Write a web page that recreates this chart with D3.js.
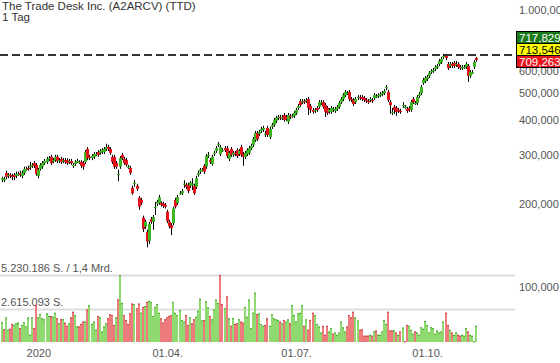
<!DOCTYPE html>
<html><head><meta charset="utf-8">
<script src="https://cdn.jsdelivr.net/npm/d3@7"></script>
<style>
html,body{margin:0;padding:0;background:#fff;}
svg{display:block;font-family:"Liberation Sans",Arial,sans-serif;}
</style></head>
<body><svg id="c" width="560" height="363"></svg>
<script>
// ---- data ----
const title = "The Trade Desk Inc. (A2ARCV) (TTD)";
const period = "1 Tag";
const open = [
243,245,258,252,254,252,254,252,256,258, 252,258,267,269,272,274,280,276,252,267,
272,280,283,290,295,285,287,295,285,290, 285,287,287,283,285,276,278,285,283,283,
280,283,315,295,292,295,302,307,305,307, 307,315,320,315,295,295,280,256,272,300,
290,287,272,269,228,238,232,210,206,178, 165,158,147,176,172,195,200,201,201,200,
198,187,172,167,170,206,201,218,218,236, 234,234,232,236,232,230,254,261,265,274,
272,300,287,278,305,310,329,302,312,317, 317,290,315,300,305,312,302,320,302,295,
302,305,317,326,339,360,357,366,369,357, 375,348,379,385,398,408,411,408,418,411,
395,415,411,415,425,443,469,465,469,469, 477,450,436,432,443,447,462,465,454,443,
429,429,436,432,440,447,465,477,493,501, 506,477,473,465,481,485,485,481,473,469,
473,473,481,489,489,493,497,501,527,506, 465,429,447,443,436,432,454,447,440,443,
436,477,462,462,489,501,545,554,564,578, 597,602,612,623,638,649,677,682,638,628,
638,644,638,638,623,617,623,623,628,578, 597,623,671];
const high = [
250,250,263,258,258,256,258,261,261,263, 263,272,272,274,283,280,285,280,269,280,
285,290,295,297,300,292,300,300,292,295, 292,292,292,290,290,280,287,290,287,287,
285,312,320,300,302,307,307,312,315,317, 320,329,326,320,300,300,285,265,297,305,
295,292,276,274,232,243,236,213,210,181, 175,161,172,179,182,203,206,215,204,203,
201,190,175,170,195,210,215,222,226,243, 238,238,241,247,236,252,263,269,269,278,
302,307,292,300,310,323,334,326,317,323, 323,310,320,310,310,317,315,326,307,310,
317,323,329,348,366,366,369,379,382,366, 382,379,391,408,415,418,418,418,425,418,
425,422,422,432,443,458,477,477,477,481, 485,458,443,443,450,473,473,473,462,450,
443,450,447,447,454,469,485,501,514,510, 514,485,481,485,493,493,493,489,481,477,
485,481,501,497,501,506,510,518,536,514, 473,443,454,450,443,440,465,454,447,450,
473,485,469,493,506,536,569,578,583,602, 612,617,633,638,666,677,694,694,649,649,
649,655,655,649,633,633,633,649,638,607, 607,660,677];
const low = [
239,239,245,247,247,243,243,247,252,250, 247,254,263,263,265,269,269,252,247,263,
267,276,278,285,276,280,283,280,280,278, 280,278,276,278,276,269,274,280,278,269,
265,278,287,287,287,290,297,295,300,302, 302,310,310,300,278,267,267,241,267,287,
276,272,267,254,215,230,222,190,198,158, 162,139,143,169,161,182,196,198,195,193,
192,170,163,154,167,192,198,215,215,228, 226,218,228,224,215,226,250,256,261,256,
267,292,278,274,297,305,320,297,307,307, 292,285,295,295,297,292,297,295,274,290,
297,300,312,320,334,336,351,360,363,348, 348,342,372,379,391,401,401,401,395,398,
388,404,408,408,418,436,447,458,458,462, 418,425,422,425,429,440,454,440,411,418,
422,422,429,425,432,440,458,469,485,493, 469,465,450,458,473,473,469,465,462,458,
465,462,473,481,481,485,489,493,514,465, 422,418,422,415,425,422,443,440,425,429,
429,458,454,454,481,493,536,545,554,569, 588,593,602,612,628,638,666,660,607,617,
617,617,623,612,607,607,612,612,550,569, 588,612,649];
const close = [
247,245,250,254,252,250,250,256,256,254, 258,267,267,267,274,276,274,256,265,276,
280,285,290,292,280,287,295,285,287,283, 287,283,280,285,280,276,283,285,283,274,
272,307,292,292,297,302,302,300,310,312, 315,320,315,305,283,272,272,256,292,292,
280,276,272,258,218,238,226,195,201,162, 172,146,169,172,179,195,203,211,198,196,
195,173,166,163,192,195,211,218,222,236, 230,222,238,236,218,247,258,265,265,261,
297,300,283,295,305,317,329,320,312,312, 297,305,300,305,302,297,310,300,295,305,
312,317,323,342,360,342,363,372,375,357, 354,372,385,401,408,411,408,411,401,404,
418,411,415,425,436,450,454,469,465,473, 443,436,429,436,436,465,465,447,429,425,
436,443,440,440,447,462,477,493,506,501, 477,473,458,477,485,481,477,473,469,465,
477,469,493,489,493,497,501,510,527,473, 454,429,436,429,432,429,454,447,432,436,
465,465,462,485,497,527,559,569,573,593, 602,607,623,628,655,666,682,671,617,638,
628,628,638,623,617,623,623,638,578,597, 597,649,660];
// volume in millions of shares
const volume = [
1.54,1.00,1.92,0.95,1.03,1.41,1.33,1.46,1.51,1.08, 1.33,1.54,1.21,1.92,0.56,1.92,1.08,2.87,1.92,2.18,
1.85,1.77,2.23,2.03,2.03,1.97,2.28,1.85,1.46,1.77, 1.77,1.51,1.26,1.46,1.92,2.36,2.10,1.21,1.21,1.41,
1.59,1.59,2.54,2.87,1.41,1.59,0.95,2.03,1.92,0.82, 1.21,1.46,1.85,2.18,2.10,1.33,1.92,3.33,5.23,3.05,
2.10,1.72,1.41,2.23,3.00,2.95,2.62,3.00,2.28,2.74, 2.80,3.13,3.21,3.13,2.03,2.74,2.95,2.28,1.85,1.51,
1.77,1.92,2.03,2.10,3.13,2.28,2.10,2.49,1.72,1.59, 2.10,1.33,1.92,1.46,1.77,1.97,2.44,3.38,1.67,1.72,
3.18,2.69,2.03,1.77,2.54,3.31,3.05,5.23,2.95,2.62, 3.56,1.85,1.26,1.85,1.41,1.46,1.77,1.59,1.51,2.74,
1.97,3.31,1.08,2.28,3.85,2.18,2.23,1.41,1.26,1.33, 1.85,1.26,2.18,1.85,1.77,1.72,1.59,1.46,1.72,1.59,
1.77,1.46,2.87,2.10,1.59,2.23,2.28,2.87,1.26,1.77, 0.95,1.72,2.28,2.10,1.41,1.21,0.74,1.26,0.56,1.26,
0.82,1.08,0.64,0.74,0.56,0.74,1.59,1.15,0.82,1.21, 2.10,1.92,2.36,1.92,1.67,0.95,1.00,0.49,0.49,0.49,
0.56,0.49,0.82,0.90,0.56,0.56,0.82,1.72,1.41,2.36, 0.90,0.90,0.90,0.74,0.56,0.82,1.13,0.05,1.33,1.26,
0.95,0.64,0.82,0.74,0.56,1.15,1.03,1.64,1.33,0.74, 1.15,1.08,0.64,0.90,0.74,0.82,1.59,2.28,1.33,0.95,
0.74,0.56,0.74,0.56,0.49,0.56,0.49,1.08,0.82,0.56, 0.49,0.05,1.26];
const dateTickIndex = [18, 81, 144, 208];
const dateTickLabels = ["2020", "01.04.", "01.07.", "01.10."];
const priceTicks = [100, 200, 300, 400, 500, 600, 1000];
const lastLevel = 688;
const quotes = [717.829, 713.546, 709.263];
const volMax = 5.230186; // millions
const volLabels = ["5.230.186 S. / 1,4 Mrd.", "2.615.093 S."];

// ---- drawing ----
const n = Math.min(open.length, high.length, low.length, close.length);
const svg = d3.select("#c");
const de = d3.formatLocale({decimal: ",", thousands: ".", grouping: [3], currency: ["", "€"]});
const fmt = de.format(",.3f");

const x = d3.scaleLinear().domain([0, 232]).range([1.5, 476.2]);
const y = d3.scaleLog().domain([100, 1000]).range([287, 10]);
const yv = d3.scaleLinear().domain([0, volMax]).range([342, 275]);

const GREEN = "#3cb521", RED = "#e3121b";
const VGREEN = "#8fd971", VRED = "#ee7b7b", VGREEN_D = "#4aa82f", VRED_D = "#c84545";

// title
svg.append("text").attr("x", 2).attr("y", 10).attr("font-size", 11.5).attr("fill", "#333").text(title);
svg.append("text").attr("x", 2).attr("y", 21).attr("font-size", 11.5).attr("fill", "#333").text(period);

// volume grid lines + labels
[volMax, volMax / 2].forEach((v, k) => {
  const yy = Math.round(yv(v)) + 0.5;
  svg.append("line").attr("x1", 0).attr("x2", 515).attr("y1", yy).attr("y2", yy)
    .attr("stroke", "#ddd").attr("stroke-width", 2);
  svg.append("text").attr("x", 1).attr("y", yy - 3.5).attr("font-size", 11).attr("fill", "#555").text(volLabels[k]);
});

// volume bars (coloured by change against previous close)
const vg = svg.append("g");
for (let i = 0; i < Math.min(n, volume.length); i++) {
  const up = i === 0 ? close[i] >= open[i] : close[i] >= close[i - 1];
  const cx = Math.round(x(i));
  const top = yv(volume[i]);
  vg.append("rect").attr("x", cx - 1).attr("width", 2).attr("y", top).attr("height", yv(0) - top)
    .attr("fill", up ? VGREEN : VRED);
  vg.append("rect").attr("x", cx - 1).attr("width", 2).attr("y", top).attr("height", 1)
    .attr("fill", up ? VGREEN_D : VRED_D);
}

// x axis labels
const xAxis = d3.axisBottom(x).tickValues(dateTickIndex).tickFormat((d, k) => dateTickLabels[k]).tickSize(0);
const gx = svg.append("g").attr("transform", "translate(0,346)").call(xAxis);
gx.select(".domain").remove();
gx.selectAll("text").attr("font-size", 11).attr("fill", "#555").attr("font-family", "Liberation Sans, Arial, sans-serif");

// right price axis
const yAxis = d3.axisRight(y).tickValues(priceTicks).tickFormat(d => fmt(d)).tickSize(0);
const gy = svg.append("g").attr("transform", "translate(516,0)").call(yAxis);
gy.select(".domain").remove();
gy.selectAll("text").attr("font-size", 11).attr("fill", "#555").attr("x", 3).attr("font-family", "Liberation Sans, Arial, sans-serif");

// candles
const cg = svg.append("g");
for (let i = 0; i < n; i++) {
  const cx = Math.round(x(i));
  const up = close[i] >= open[i];
  cg.append("line").attr("x1", cx + 0.5).attr("x2", cx + 0.5)
    .attr("y1", y(high[i])).attr("y2", y(low[i])).attr("stroke", "#000").attr("stroke-width", 1);
  const t = Math.min(y(open[i]), y(close[i]));
  const h = Math.max(1.2, Math.abs(y(open[i]) - y(close[i])));
  cg.append("rect").attr("x", cx - 1).attr("width", 3).attr("y", t).attr("height", h)
    .attr("fill", up ? GREEN : RED);
}

// last price dashed line
const ly = Math.round(y(lastLevel));
svg.append("line").attr("x1", 0).attr("x2", 514).attr("y1", ly).attr("y2", ly)
  .attr("stroke", "#333").attr("stroke-width", 2).attr("stroke-dasharray", "8,4");

// quote boxes
const boxFill = ["#1b7a1b", "#ffff00", "#e8141c"];
const boxText = ["#fff", "#000", "#fff"];
const boxTop = [31, 43, 55];
quotes.forEach((q, k) => {
  svg.append("rect").attr("x", 516.5).attr("y", boxTop[k] + 0.5).attr("width", 50).attr("height", 12)
    .attr("fill", boxFill[k]).attr("stroke", "#000").attr("stroke-width", 1);
  svg.append("text").attr("x", 519).attr("y", boxTop[k] + 11).attr("font-size", 11.5)
    .attr("fill", boxText[k]).text(fmt(q));
});
</script></body></html>
